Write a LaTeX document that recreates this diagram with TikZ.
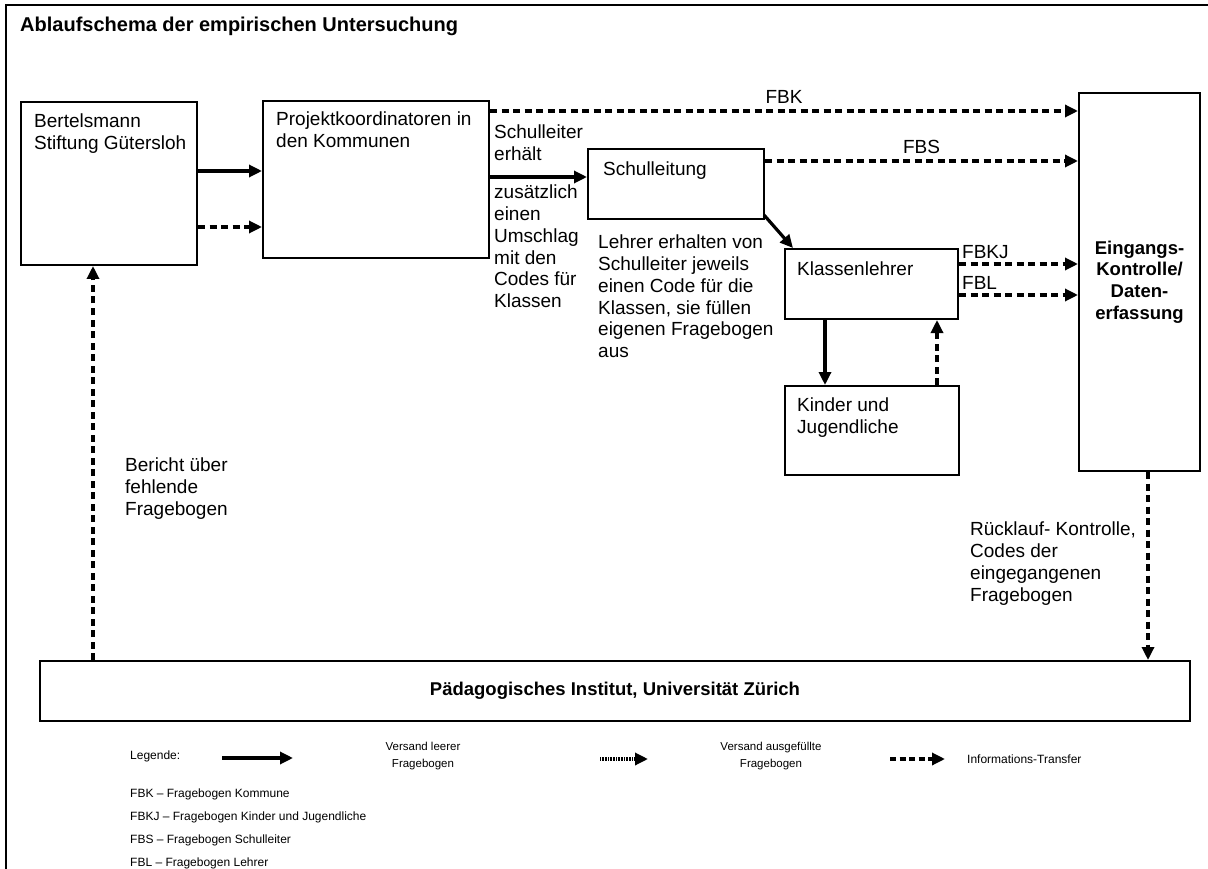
\documentclass[tikz,border=0pt]{standalone}
\usepackage{fontspec}
\setmainfont{Liberation Sans}
\usetikzlibrary{arrows.meta,calc}
\begin{document}
\begin{tikzpicture}[x=1pt,y=-1pt,
  box/.style={draw, line width=2pt, anchor=north west, inner sep=0pt},
  txt/.style={anchor=north west, inner sep=0pt, align=left, font=\fontsize{19}{21.7}\selectfont},
  lbl/.style={anchor=base, inner sep=0pt, font=\fontsize{19}{21.7}\selectfont},
  bold/.style={font=\fontsize{18.5}{21.7}\selectfont\bfseries, align=center},
  leg/.style={anchor=base west, inner sep=0pt, font=\fontsize{12}{14}\selectfont},
  legc/.style={inner sep=0pt, align=center, font=\fontsize{11.5}{17}\selectfont},
  con/.style={line width=3.2pt, -{Triangle[length=13pt,width=12pt]}},
  info/.style={con, dash pattern=on 7pt off 4.5pt},
  filled/.style={con, dash pattern=on 1pt off 0.6pt}
]
\useasboundingbox (0,0) rectangle (1208,869);
% frame
\draw[line width=2.4pt] (6,875) -- (6,5) -- (1215,5);
\node[anchor=base west, inner sep=0pt, font=\fontsize{20}{22}\selectfont\bfseries] (title) at (20,32) {Ablaufschema der empirischen Untersuchung};

% boxes
\node[box, minimum width=176pt, minimum height=163pt] (bert) at (20,101) {};
\node[box, minimum width=226pt, minimum height=157pt] (proj) at (262,100) {};
\node[box, minimum width=176pt, minimum height=70pt] (schul) at (587,148) {};
\node[box, minimum width=173pt, minimum height=70pt] (klass) at (784,248) {};
\node[box, minimum width=174pt, minimum height=89pt] (kind) at (784,385) {};
\node[box, bold, minimum width=121pt, minimum height=378pt] (eing) at (1078,92) {Eingangs-\\Kontrolle/\\Daten-\\erfassung};
\node[box, bold, minimum width=1150pt, minimum height=60pt] (pad) at (39,660) {Pädagogisches Institut, Universität Zürich};

% box texts
\node[txt] (tbert) at (34,114) {Bertelsmann\\Stiftung Gütersloh};
\node[txt] (tproj) at (276,112) {Projektkoordinatoren in\\den Kommunen};
\node[txt] (tschul) at (603,162) {Schulleitung};
\node[txt] (tklass) at (797,262) {Klassenlehrer};
\node[txt] (tkind) at (797,398) {Kinder und\\Jugendliche};

% free texts
\node[txt] (t1) at (494,125) {Schulleiter\\erhält};
\node[txt] (t2) at (494,185) {zusätzlich\\einen\\Umschlag\\mit den\\Codes für\\Klassen};
\node[txt] (t3) at (598,235) {Lehrer erhalten von\\Schulleiter jeweils\\einen Code für die\\Klassen, sie füllen\\eigenen Fragebogen\\aus};
\node[txt] (t4) at (970,522) {Rücklauf- Kontrolle,\\Codes der\\eingegangenen\\Fragebogen};
\node[txt] (t5) at (125,458) {Bericht über\\fehlende\\Fragebogen};

% connectors
\draw[con] (bert.east |- 0,171) -- (proj.west |- 0,171);
\draw[info] (bert.east |- 0,227) -- (proj.west |- 0,227);
\draw[con] (proj.east |- 0,177) -- (schul.west |- 0,177);
\draw[info] (proj.east |- 0,111) -- node[lbl, above=6pt, anchor=south] (lfbk) {FBK} (eing.west |- 0,111);
\draw[info] (schul.east |- 0,161) -- node[lbl, above=6pt, anchor=south] (lfbs) {FBS} (eing.west |- 0,161);
\draw[info] (klass.east |- 0,264) -- (eing.west |- 0,264);
\draw[info] (klass.east |- 0,295) -- (eing.west |- 0,295);
\node[lbl, anchor=base west] (lfbkj) at (962,259) {FBKJ};
\node[lbl, anchor=base west] (lfbl) at (962,290) {FBL};
\draw[con] ($(schul.south east)+(-1,-5)$) -- ($(klass.north west)+(9,0)$);
\draw[con] (klass.south -| 825,0) -- (kind.north -| 825,0);
\draw[info] (kind.north -| 937,0) -- (klass.south -| 937,0);
\draw[info] (eing.south -| 1148,0) -- (pad.north -| 1148,0);
\draw[info] (pad.north -| 93,0) -- (bert.south -| 93,0);

% legend
\node[leg] (lg) at (130,759) {Legende:};
\coordinate (a1) at (222,758); \coordinate (a2) at (293,758);
\draw[con] (a1) -- (a2);
\node[legc] (lg1) at (423,756) {Versand leerer\\Fragebogen};
\coordinate (b1) at (600,759); \coordinate (b2) at (648,759);
\draw[filled] (b1) -- (b2);
\node[legc] (lg2) at (771,756) {Versand ausgefüllte\\Fragebogen};
\coordinate (c1) at (890,759); \coordinate (c2) at (945,759);
\draw[info, dash pattern=on 6pt off 3.5pt] (c1) -- (c2);
\node[leg] (lg3) at (967,763) {Informations-Transfer};
\node[leg] (k1) at (130,797) {FBK – Fragebogen Kommune};
\node[leg] (k2) at (130,820) {FBKJ – Fragebogen Kinder und Jugendliche};
\node[leg] (k3) at (130,843) {FBS – Fragebogen Schulleiter};
\node[leg] (k4) at (130,866) {FBL – Fragebogen Lehrer};
\end{tikzpicture}
\end{document}
